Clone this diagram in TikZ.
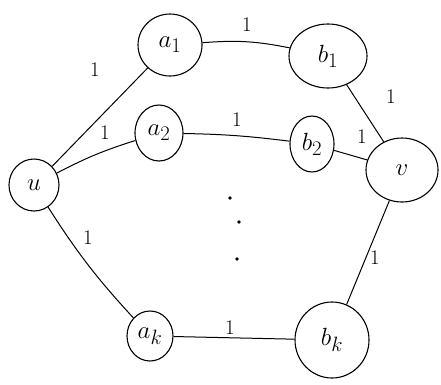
\documentclass[tikz,border=0pt]{standalone}
\usetikzlibrary{shapes.geometric}
\begin{document}
\begin{tikzpicture}[x=1pt,y=-1pt,
  vert/.style={draw,ellipse,line width=1.1pt,inner sep=0pt,font=\Huge},
  edge/.style={line width=1pt},
  wt/.style={font=\huge}]
\useasboundingbox (0,0) rectangle (441,384);
\node[vert,minimum width=50pt,minimum height=52pt] (u) at (34,185) {$u$};
\node[vert,minimum width=64pt,minimum height=62pt] (a1) at (170,45) {$a_1$};
\node[vert,minimum width=78pt,minimum height=64pt] (b1) at (328,56) {$b_1$};
\node[vert,minimum width=48pt,minimum height=56pt] (a2) at (159,133) {$a_2$};
\node[vert,minimum width=44pt,minimum height=56pt] (b2) at (312,144) {$b_2$};
\node[vert,minimum width=72pt,minimum height=64pt] (v) at (402,170) {$v$};
\node[vert,minimum width=46pt,minimum height=50pt] (ak) at (150,336) {$a_k$};
\node[vert,minimum width=74pt,minimum height=76pt] (bk) at (332,340) {$b_k$};
\draw[edge] (u) -- (a1);
\draw[edge] (a1) to[bend left=8] (b1);
\draw[edge] (b1) -- (v);
\draw[edge] (u) to[bend left=5] (a2);
\draw[edge] (a2) to[bend left=3] (b2);
\draw[edge] (b2) -- (v);
\draw[edge] (u) to[bend right=5] (ak);
\draw[edge] (ak) -- (bk);
\draw[edge] (v) -- (bk);
\node[wt] (w1) at (95,70) {1};
\node[wt] (w2) at (247,25) {1};
\node[wt] (w3) at (391,97) {1};
\node[wt] (w4) at (105,133) {1};
\node[wt] (w5) at (237,120) {1};
\node[wt] (w6) at (362,137) {1};
\node[wt] (w7) at (88,238) {1};
\node[wt] (w8) at (230,328) {1};
\node[wt] (w9) at (375,258) {1};
\fill (230,198) circle (1.8pt) coordinate (d1);
\fill (239,222) circle (1.8pt) coordinate (d2);
\fill (237,259) circle (1.8pt) coordinate (d3);
\end{tikzpicture}
\end{document}
